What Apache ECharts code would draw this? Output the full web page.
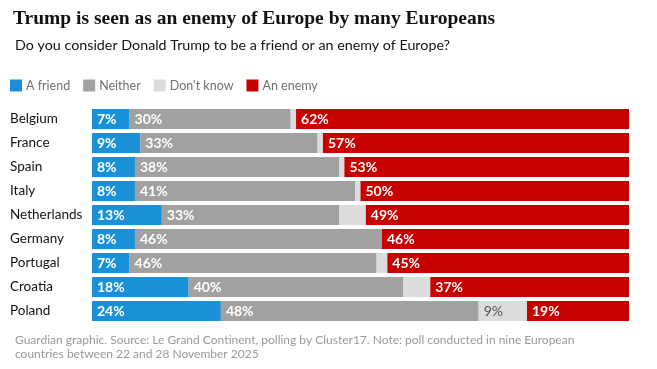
<!DOCTYPE html>
<html>
<head>
<meta charset="utf-8">
<script src="https://cdn.jsdelivr.net/npm/echarts@6/dist/echarts.min.js"></script>
<style>
html,body{margin:0;padding:0;background:#fff;}
#c{width:657px;height:369px;}
</style>
</head>
<body>
<div id="c"></div>
<script>
const countries = ["Belgium","France","Spain","Italy","Netherlands","Germany","Portugal","Croatia","Poland"];
const friend   = [7, 9, 8, 8, 13, 8, 7, 18, 24];
const neither  = [30, 33, 38, 41, 33, 46, 46, 40, 48];
const dontKnow = [1, 1, 1, 1, 5, 0, 2, 5, 9];
const enemy    = [62, 57, 53, 50, 49, 46, 45, 37, 19];
const showDontKnowLabel = [false,false,false,false,false,false,false,false,true];

const chart = echarts.init(document.getElementById('c'));
const FONT = 'Lato';

function lbl(color){
  return {show:true, position:'insideLeft', distance:5, color:color, fontFamily:FONT, fontSize:14, fontWeight:'bold', formatter:p=>p.value+'%'};
}

chart.setOption({
  animation:false,
  title:[
    {text:'Trump is seen as an enemy of Europe by many Europeans', left:8, top:4,
     textStyle:{fontFamily:'Liberation Serif', fontSize:19.5, fontWeight:'bold', color:'#121212'}},
    {text:'Do you consider Donald Trump to be a friend or an enemy of Europe?', left:10, top:33,
     textStyle:{fontFamily:FONT, fontSize:14.3, fontWeight:'normal', color:'#121212'}},
    {text:'Guardian graphic. Source: Le Grand Continent, polling by Cluster17. Note: poll conducted in nine European\ncountries between 22 and 28 November 2025', left:10, top:328,
     textStyle:{fontFamily:FONT, fontSize:12, fontWeight:'normal', color:'#999999', lineHeight:14}}
  ],
  legend:{
    left:10, top:79, padding:0, icon:'rect', itemWidth:12, itemHeight:12, itemGap:13,
    textStyle:{fontFamily:FONT, fontSize:12.5, color:'#707070', padding:[0,0,0,-1]},
    data:['A friend','Neither',"Don't know",'An enemy']
  },
  grid:{left:92, right:28, top:107, bottom:46},
  xAxis:{type:'value', min:0, max:100, show:false},
  yAxis:{type:'category', data:countries, inverse:true,
    axisLine:{show:false}, axisTick:{show:false},
    axisLabel:{align:'left', margin:82, fontFamily:FONT, fontSize:13.5, color:'#121212'}},
  series:[
    {name:'A friend', type:'bar', stack:'t', barWidth:20, data:friend, itemStyle:{color:'#1a90d6'}, label:lbl('#ffffff')},
    {name:'Neither', type:'bar', stack:'t', barWidth:20, data:neither, itemStyle:{color:'#a1a1a1'}, label:lbl('#ffffff')},
    {name:"Don't know", type:'bar', stack:'t', barWidth:20,
      data:dontKnow.map((v,i)=>({value:v, label:{show:showDontKnowLabel[i]}})),
      itemStyle:{color:'#dcdcdc'}, label:Object.assign(lbl('#555555'),{fontWeight:'normal'})},
    {name:'An enemy', type:'bar', stack:'t', barWidth:20, data:enemy, itemStyle:{color:'#c70000'}, label:lbl('#ffffff')}
  ]
});
</script>
</body>
</html>
